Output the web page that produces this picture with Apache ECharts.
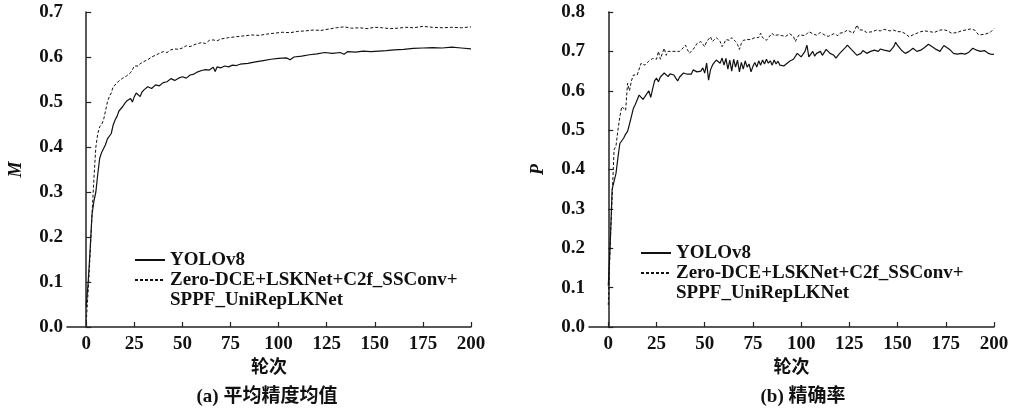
<!DOCTYPE html>
<html>
<head>
<meta charset="utf-8">
<script src="https://cdn.jsdelivr.net/npm/echarts@6/dist/echarts.min.js"></script>
<style>html,body{margin:0;padding:0;background:#fff}#c{width:1018px;height:412px}</style>
</head>
<body>
<div id="c"></div>
<script>
// ---- Data: (a) mAP ----
const epochsA_yolo = [0,1,2,3,4,5,6,7,8,9,10,11,12,13,14,15,16,17,18,19,20,21,22,23,24,25,26,27,28,29,30,32,34,36,38,40,42,44,46,48,50,52,54,56,58,60,62,64,66,67,68,70,72,74,76,78,80,84,88,92,96,100,104,106,108,112,116,120,124,128,132,134,136,140,144,148,152,156,160,165,170,175,180,185,190,195,200];
const yoloA = [0.045,0.10,0.17,0.25,0.28,0.30,0.34,0.375,0.388,0.39,0.405,0.418,0.415,0.43,0.449,0.46,0.468,0.48,0.485,0.49,0.497,0.502,0.498,0.508,0.50,0.512,0.52,0.518,0.512,0.522,0.527,0.534,0.53,0.538,0.536,0.543,0.545,0.552,0.548,0.553,0.556,0.553,0.560,0.562,0.567,0.570,0.572,0.571,0.577,0.568,0.578,0.576,0.580,0.578,0.582,0.581,0.584,0.586,0.589,0.592,0.595,0.597,0.598,0.594,0.600,0.602,0.605,0.607,0.610,0.608,0.610,0.606,0.612,0.611,0.613,0.612,0.613,0.614,0.616,0.617,0.619,0.620,0.621,0.620,0.622,0.620,0.618];
const epochsA_ours = [0,1,2,3,4,5,6,7,8,9,10,11,12,13,14,15,16,17,18,19,20,21,22,23,24,25,26,27,28,30,32,34,36,38,40,42,44,46,48,50,52,54,56,58,60,62,64,66,68,70,74,78,82,86,90,94,98,102,106,110,114,118,122,126,130,134,138,142,146,150,154,158,162,166,170,175,180,185,190,195,200];
const oursA = [0.01,0.08,0.16,0.25,0.33,0.40,0.43,0.445,0.45,0.46,0.48,0.50,0.512,0.52,0.534,0.538,0.542,0.547,0.55,0.553,0.556,0.558,0.562,0.565,0.572,0.580,0.584,0.580,0.585,0.590,0.594,0.600,0.604,0.608,0.612,0.610,0.616,0.618,0.617,0.620,0.625,0.623,0.627,0.630,0.632,0.630,0.637,0.638,0.636,0.640,0.643,0.645,0.647,0.649,0.648,0.651,0.653,0.655,0.654,0.657,0.658,0.660,0.659,0.662,0.665,0.667,0.664,0.665,0.663,0.666,0.665,0.663,0.664,0.666,0.665,0.668,0.666,0.665,0.666,0.665,0.667];

// ---- Data: (b) Precision ----
const epochsB_yolo = [0,1,2,3,4,5,6,7,8,9,10,11,12,13,14,15,16,17,18,19,20,21,22,23,24,25,26,27,28,29,30,31,32,33,34,35,36,37,38,39,40,41,42,43,44,45,46,47,48,49,50,51,52,53,54,55,56,57,58,59,60,61,62,63,64,65,66,67,68,69,70,71,72,73,74,75,76,77,78,79,80,81,82,83,84,85,86,87,88,89,90,91,92,94,96,98,100,101,102,103,104,105,106,107,108,110,111,113,115,117,118,120,121,123,124,126,127,129,131,132,134,136,138,140,141,143,144,146,148,149,150,152,154,156,158,160,162,164,166,168,170,172,174,175,177,179,181,183,185,187,189,191,193,195,197,199,200];
const yoloB = [0.105,0.21,0.35,0.355,0.39,0.43,0.466,0.47,0.48,0.49,0.497,0.515,0.535,0.555,0.565,0.56,0.589,0.585,0.578,0.585,0.59,0.60,0.583,0.605,0.625,0.632,0.623,0.635,0.64,0.645,0.64,0.636,0.643,0.638,0.64,0.632,0.625,0.635,0.64,0.645,0.64,0.642,0.645,0.642,0.653,0.648,0.648,0.652,0.65,0.658,0.645,0.67,0.627,0.653,0.665,0.672,0.678,0.682,0.67,0.683,0.665,0.682,0.655,0.678,0.65,0.68,0.66,0.678,0.648,0.672,0.655,0.676,0.66,0.668,0.648,0.662,0.672,0.66,0.676,0.665,0.678,0.668,0.68,0.67,0.676,0.665,0.678,0.668,0.675,0.665,0.662,0.663,0.665,0.675,0.68,0.695,0.686,0.69,0.70,0.716,0.686,0.69,0.70,0.688,0.695,0.70,0.69,0.705,0.695,0.69,0.683,0.695,0.70,0.71,0.716,0.705,0.70,0.69,0.695,0.702,0.695,0.70,0.703,0.70,0.706,0.703,0.705,0.70,0.712,0.723,0.715,0.703,0.695,0.70,0.708,0.70,0.703,0.71,0.718,0.712,0.705,0.70,0.715,0.718,0.705,0.695,0.693,0.695,0.693,0.698,0.708,0.703,0.70,0.702,0.695,0.692,0.693];
const epochsB_ours = [0,1,2,3,4,5,6,7,8,9,10,11,12,13,14,15,16,17,18,19,20,21,22,23,24,25,26,27,28,29,30,31,32,33,34,35,36,37,38,39,40,41,42,43,44,45,46,47,48,49,50,51,52,53,54,55,56,57,58,59,60,61,62,63,64,65,66,67,68,69,70,71,72,73,74,75,76,77,78,79,80,81,82,83,84,85,86,87,88,89,90,91,92,93,94,95,96,97,98,99,100,102,104,106,108,110,112,114,115,117,119,120,122,124,125,127,129,130,132,134,135,137,139,141,143,144,146,148,150,152,154,156,158,160,162,164,165,167,169,170,172,174,176,178,179,181,183,184,186,188,190,192,193,195,196,198,199,200];
const oursB = [0.056,0.213,0.33,0.45,0.46,0.50,0.534,0.56,0.565,0.55,0.619,0.60,0.625,0.64,0.642,0.64,0.635,0.67,0.674,0.665,0.67,0.675,0.68,0.682,0.678,0.68,0.70,0.68,0.695,0.708,0.69,0.70,0.695,0.70,0.705,0.70,0.703,0.70,0.705,0.71,0.716,0.705,0.695,0.69,0.705,0.712,0.72,0.715,0.725,0.729,0.712,0.725,0.72,0.737,0.725,0.73,0.735,0.737,0.725,0.712,0.72,0.73,0.725,0.728,0.735,0.737,0.725,0.718,0.705,0.72,0.728,0.733,0.73,0.725,0.73,0.728,0.735,0.74,0.735,0.746,0.735,0.738,0.728,0.735,0.74,0.746,0.74,0.735,0.742,0.737,0.74,0.745,0.738,0.74,0.745,0.746,0.738,0.725,0.735,0.742,0.746,0.74,0.75,0.745,0.741,0.748,0.742,0.738,0.741,0.745,0.74,0.746,0.748,0.754,0.75,0.746,0.767,0.755,0.754,0.748,0.744,0.75,0.754,0.752,0.756,0.754,0.752,0.754,0.75,0.75,0.745,0.737,0.742,0.746,0.75,0.752,0.754,0.75,0.748,0.75,0.754,0.755,0.752,0.746,0.744,0.748,0.752,0.751,0.755,0.757,0.754,0.742,0.738,0.743,0.746,0.748,0.752,0.758];

const xTicks = [0,25,50,75,100,125,150,175,200];
const seriesNames = ['YOLOv8', 'Zero-DCE+LSKNet+C2f_SSConv+\nSPPF_UniRepLKNet'];
const yNames = ['M', 'P'];
const xName = '轮次';
const captions = ['(a) 平均精度均值', '(b) 精确率'];

const pair = (xs, ys) => xs.map((x, i) => [x, ys[i]]);
const SERIF = '"Liberation Serif","Times New Roman","Noto Sans CJK SC",serif';
const AX = '#222';
const FS = 19;

function xAxis(gi) {
  return {
    gridIndex: gi, type: 'value', min: -10, max: 200,
    name: xName, nameLocation: 'middle', nameGap: 31,
    nameTextStyle: {fontFamily: SERIF, fontWeight: 'bold', fontSize: 18, color: '#111'},
    axisLine: {show: true, lineStyle: {color: AX, width: 1.5}},
    axisTick: {show: true, inside: true, length: 5, customValues: xTicks, lineStyle: {color: AX, width: 1.2}},
    axisLabel: {customValues: xTicks, margin: 8, fontFamily: SERIF, fontWeight: 'bold', fontSize: FS, color: '#111'},
    splitLine: {show: false}
  };
}
function yAxis(gi, max, nm) {
  return {
    gridIndex: gi, type: 'value', min: 0, max: max, interval: 0.1,
    name: nm, nameLocation: 'middle', nameRotate: 90, nameGap: 42,
    nameTextStyle: {fontFamily: SERIF, fontWeight: 'bold', fontStyle: 'italic', fontSize: 18, color: '#111'},
    axisLine: {show: true, lineStyle: {color: AX, width: 1.5}},
    axisTick: {show: true, inside: true, length: 5, lineStyle: {color: AX, width: 1.2}},
    axisLabel: {margin: 4, formatter: v => v.toFixed(1), fontFamily: SERIF, fontWeight: 'bold', fontSize: FS, color: '#111'},
    splitLine: {show: false}
  };
}
function legend(left, top) {
  return {
    orient: 'vertical', left: left, top: top, padding: 0,
    itemWidth: 30, itemHeight: 10, itemGap: -20,
    itemStyle: {color: 'rgba(0,0,0,0)', borderWidth: 0, opacity: 0},
    textStyle: {fontFamily: SERIF, fontWeight: 'bold', fontSize: FS, color: '#111', lineHeight: 20},
    formatter: name => (name === seriesNames[1] ? '\n' + name : name),
    data: seriesNames
  };
}
function line(gi, name, data, dashed) {
  return {
    type: 'line', name: name, xAxisIndex: gi, yAxisIndex: gi, data: data,
    showSymbol: false, symbol: 'none', smooth: false, animation: false,
    lineStyle: {color: '#111', width: dashed ? 1 : 1.2, type: dashed ? [3, 2] : 'solid'},
    itemStyle: {color: '#111'}
  };
}

const chart = echarts.init(document.getElementById('c'), null, {renderer: 'canvas'});
chart.setOption({
  backgroundColor: '#fff',
  animation: false,
  grid: [
    {left: 67, right: 547, top: 12, bottom: 85},
    {left: 589, right: 24, top: 12, bottom: 85}
  ],
  xAxis: [xAxis(0), xAxis(1)],
  yAxis: [yAxis(0, 0.7, yNames[0]), yAxis(1, 0.8, yNames[1])],
  legend: [legend(134, 250), legend(640, 243)],
  series: [
    line(0, seriesNames[0], pair(epochsA_yolo, yoloA), false),
    line(0, seriesNames[1], pair(epochsA_ours, oursA), true),
    line(1, seriesNames[0], pair(epochsB_yolo, yoloB), false),
    line(1, seriesNames[1], pair(epochsB_ours, oursB), true)
  ],
  graphic: [
    {type: 'text', x: 267, y: 397, style: {text: captions[0], align: 'center', verticalAlign: 'middle', font: 'bold 19px ' + SERIF, fill: '#111'}},
    {type: 'text', x: 803, y: 397, style: {text: captions[1], align: 'center', verticalAlign: 'middle', font: 'bold 19px ' + SERIF, fill: '#111'}}
  ]
});
</script>
</body>
</html>
